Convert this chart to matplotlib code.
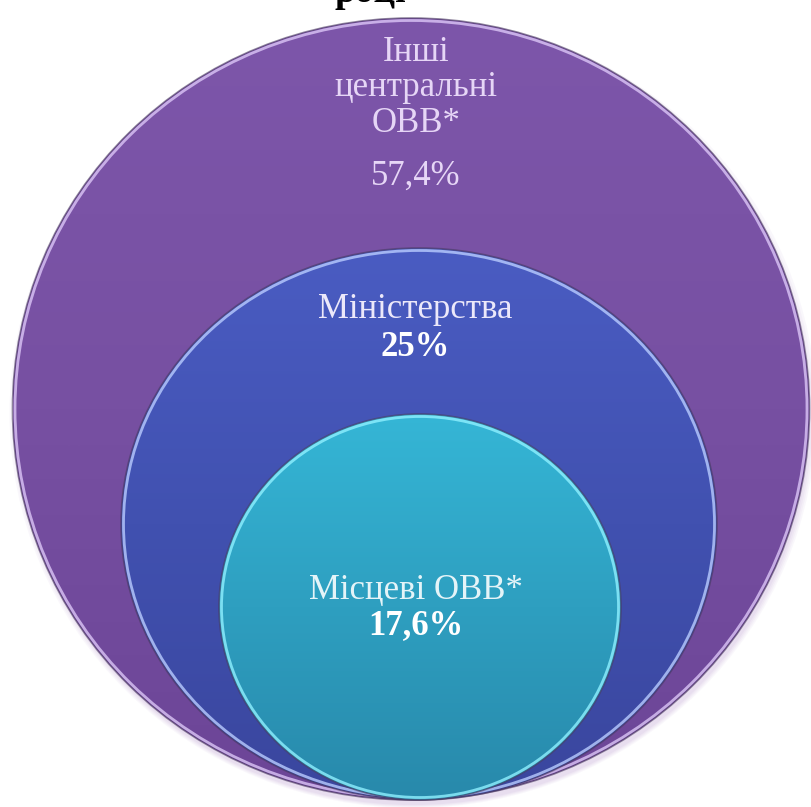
import numpy as np
import matplotlib
matplotlib.use("Agg")
import matplotlib.pyplot as plt
from matplotlib.patches import Ellipse
from matplotlib.colors import LinearSegmentedColormap

# ---- data ----
title_text = "році"
categories = ["Інші\nцентральні\nОВВ*", "Міністерства", "Місцеві ОВВ*"]
shares = [57.4, 25.0, 17.6]

def fmt(v):
    s = ("%.1f" % v).rstrip("0").rstrip(".")
    return s.replace(".", ",") + "%"

# ---- layout / style (pixel coordinates, y downward) ----
W, H = 811, 807
shapes = [  # (cx, cy, width, height)
    (411, 409, 797, 782),
    (419, 524, 596, 552),
    (420, 607, 402, 386),
]
grads = [
    ["#7d56aa", "#7750a2", "#6c4597"],
    ["#4a5cc2", "#4151b0", "#3a469e"],
    ["#35b6d6", "#2e9fc0", "#2889ab"],
]
rims = ["#dcc6f7", "#b9ccff", "#8ff0ff"]
text_colors = ["#e6d6f6", "#ece8fa", "#e4f4f8"]
label_pos = [(416, 88), (415, 310), (416, 590)]
value_pos = [(416, 176), (415, 348), (416, 626)]

fig = plt.figure(figsize=(W / 100, H / 100), dpi=100)
fig.patch.set_facecolor("white")
ax = fig.add_axes([0, 0, 1, 1])
ax.set_xlim(0, W)
ax.set_ylim(H, 0)
ax.axis("off")

# soft shadow under the stack
for k, a in enumerate([0.05, 0.05, 0.06, 0.07]):
    cx, cy, w, h = shapes[0]
    ax.add_patch(Ellipse((cx + 2, cy + 4 + k), w + 10 - 4 * k, h + 8 - 4 * k,
                         facecolor="#9a6cc0", edgecolor="none", alpha=a, zorder=1))

for i, ((cx, cy, w, h), cols) in enumerate(zip(shapes, grads)):
    z = 2 + i * 3
    cmap = LinearSegmentedColormap.from_list("g%d" % i, cols)
    grad = np.linspace(0, 1, 256).reshape(-1, 1) * np.ones((1, 8))
    clip = Ellipse((cx, cy), w, h, facecolor="none", edgecolor="none")
    ax.add_patch(clip)
    im = ax.imshow(grad, cmap=cmap, extent=(cx - w / 2, cx + w / 2, cy + h / 2, cy - h / 2),
                   origin="upper", aspect="auto", zorder=z, interpolation="bilinear")
    im.set_clip_path(clip)
    # dark outer edge
    ax.add_patch(Ellipse((cx, cy), w, h, facecolor="none", edgecolor="#4a3a60",
                         lw=1.2, alpha=0.6, zorder=z + 1))
    # light inner rim
    ax.add_patch(Ellipse((cx, cy), w - 5, h - 5, facecolor="none", edgecolor=rims[i],
                         lw=2.0, alpha=0.8, zorder=z + 1))

# labels
for i in range(3):
    ax.text(label_pos[i][0], label_pos[i][1], categories[i], ha="center", va="center",
            fontsize=25, family="Liberation Serif", color=text_colors[i],
            linespacing=1.1, zorder=20)
    ax.text(value_pos[i][0], value_pos[i][1], fmt(shares[i]), ha="center", va="center",
            fontsize=25, family="Liberation Serif", color=text_colors[i] if i == 0 else "white",
            fontweight="normal" if i == 0 else "bold", zorder=20)

# title line, cut off at the top edge as in the reference
ax.text(370, 2, title_text, ha="center", va="baseline", fontsize=27,
        family="Liberation Serif", fontweight="bold", color="black", zorder=20)

fig.savefig("out.png", dpi=100, facecolor="white")
